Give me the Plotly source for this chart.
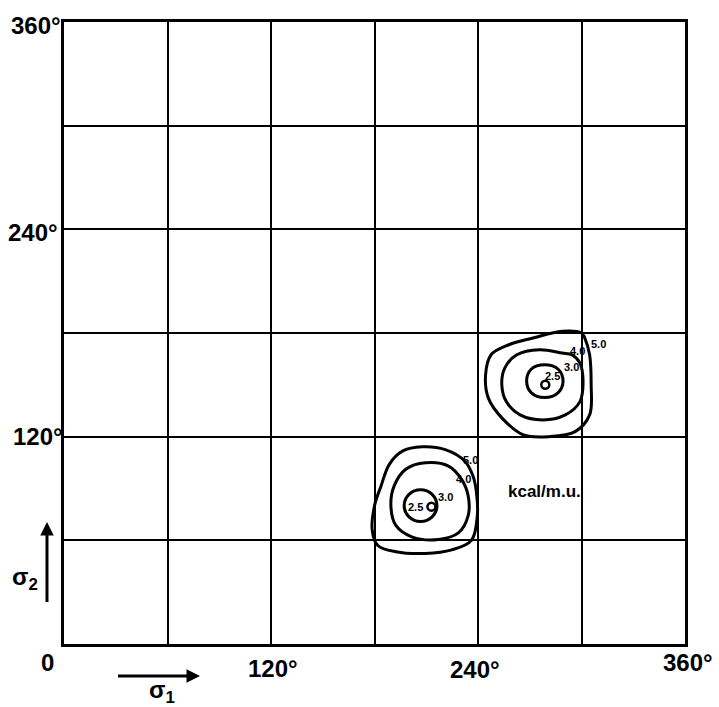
import plotly.graph_objects as go

# ---- data (degrees) ----
x_ticks = [0, 120, 240, 360]
x_tick_text = ["0", "120°", "240°", "360°"]
y_ticks = [120, 240, 360]
y_tick_text = ["120°", "240°", "360°"]

# upper minimum (kcal/m.u. contours)
up50_x = [300.0, 288.8, 271.9, 257.9, 247.6, 244.4, 246.0, 254.1, 266.3, 281.3, 296.3, 304.7, 305.6, 304.7, 301.9]
up50_y = [180.0, 181.0, 177.1, 173.2, 167.4, 155.8, 142.3, 130.6, 121.0, 120.0, 122.9, 132.6, 150.0, 167.4, 177.1]
up40_x = [288.8, 275.6, 262.5, 255.5, 253.8, 256.4, 264.4, 277.5, 290.6, 299.1, 300.9, 299.1, 294.4]
up40_y = [168.4, 170.3, 167.4, 159.7, 150.0, 140.3, 132.6, 129.7, 132.6, 140.3, 151.9, 162.6, 167.4]
up30_x = [268.2, 270.8, 278.6, 286.5, 289.3, 286.5, 278.6, 270.8]
up30_y = [152.0, 159.0, 161.6, 159.0, 152.0, 145.5, 142.6, 145.5]
up_min = (279.0, 150.0)

# lower minimum
lo50_x = [232.4, 221.0, 207.6, 196.2, 188.6, 183.8, 180.0, 178.7, 181.9, 192.4, 209.5, 224.8, 236.2, 239.6, 239.1, 237.1]
lo50_y = [105.8, 112.5, 114.1, 111.6, 104.0, 91.5, 80.0, 65.7, 57.0, 53.4, 52.4, 54.5, 60.0, 74.3, 87.7, 97.2]
lo40_x = [222.9, 209.5, 198.1, 191.4, 189.5, 192.4, 201.9, 217.1, 228.6, 234.3, 234.3, 230.5]
lo40_y = [103.0, 104.9, 101.1, 91.5, 80.1, 68.6, 61.9, 60.5, 64.3, 74.3, 85.8, 95.3]
lo30_x = [197.2, 200.0, 206.7, 213.4, 216.2, 213.4, 206.7, 200.0]
lo30_y = [80.0, 86.6, 89.3, 86.6, 80.0, 73.6, 70.9, 73.6]
lo_min = (213.0, 79.5)

# contour labels: (text, x, y)
contour_labels = [
    ("5.0", 310.0, 173.6), ("4.0", 297.4, 169.8), ("3.0", 294.4, 160.3), ("2.5", 283.0, 155.0),
    ("5.0", 235.8, 106.5), ("4.0", 231.6, 95.5), ("3.0", 221.4, 85.1), ("2.5", 203.8, 79.5),
]

fig = go.Figure()

def closed(xs, ys):
    return list(xs) + [xs[0]], list(ys) + [ys[0]]

for xs, ys in [(up50_x, up50_y), (up40_x, up40_y), (up30_x, up30_y),
               (lo50_x, lo50_y), (lo40_x, lo40_y), (lo30_x, lo30_y)]:
    cx, cy = closed(xs, ys)
    fig.add_trace(go.Scatter(x=cx, y=cy, mode="lines",
                             line=dict(color="black", width=3, shape="spline", smoothing=1.0),
                             hoverinfo="skip", showlegend=False))

fig.add_trace(go.Scatter(x=[up_min[0], lo_min[0]], y=[up_min[1], lo_min[1]], mode="markers",
                         marker=dict(symbol="circle-open", size=8, color="black", line=dict(width=2.5)),
                         showlegend=False, hoverinfo="skip"))

FAM = "Liberation Sans, Arial"
font_big = dict(family=FAM, size=24, color="black", weight="bold")
font_small = dict(family=FAM, size=11, color="black", weight="bold")

annotations = []
for t, x, y in contour_labels:
    annotations.append(dict(text=t, x=x, y=y, xref="x", yref="y", showarrow=False, font=font_small,
                            xanchor="center", yanchor="middle"))

annotations.append(dict(text="kcal/m.u.", x=278.5, y=88.5, xref="x", yref="y", showarrow=False,
                        xanchor="center", yanchor="middle",
                        font=dict(family=FAM, size=17, color="black", weight="bold")))

# tick labels (paper positions)
xpos = {0: (-0.0258, -0.0305), 120: (0.3366, -0.040), 240: (0.6618, -0.0418), 360: (1.0048, -0.029)}
for v, t in zip(x_ticks, x_tick_text):
    px, py = xpos[v]
    annotations.append(dict(text=t, x=px, y=py, xref="paper", yref="paper", showarrow=False,
                            font=font_big, xanchor="center", yanchor="middle"))
ypos = {120: (-0.0419, 0.333), 240: (-0.0499, 0.661), 360: (-0.0451, 0.995)}
for v, t in zip(y_ticks, y_tick_text):
    px, py = ypos[v]
    annotations.append(dict(text=t, x=px, y=py, xref="paper", yref="paper", showarrow=False,
                            font=font_big, xanchor="center", yanchor="middle"))

# axis arrows and labels
annotations.append(dict(x=-0.0274, y=0.196, xref="paper", yref="paper", text=" ", showarrow=True,
                        ax=0, ay=83, arrowhead=2, arrowsize=0.9, arrowwidth=3, arrowcolor="black",
                        font=dict(size=2)))
annotations.append(dict(x=0.219, y=-0.0514, xref="paper", yref="paper", text=" ", showarrow=True,
                        ax=-84, ay=0, arrowhead=2, arrowsize=0.9, arrowwidth=3, arrowcolor="black",
                        font=dict(size=2)))
annotations.append(dict(text="σ<sub>2</sub>", x=-0.0628, y=0.106, xref="paper", yref="paper",
                        showarrow=False, font=font_big, xanchor="center", yanchor="middle"))
annotations.append(dict(text="σ<sub>1</sub>", x=0.158, y=-0.077, xref="paper", yref="paper",
                        showarrow=False, font=font_big, xanchor="center", yanchor="middle"))

axis_common = dict(range=[0, 360], dtick=60, tick0=0, showgrid=True, gridcolor="black", gridwidth=2,
                   zeroline=False, showline=True, linecolor="black", linewidth=3, mirror=True,
                   showticklabels=False, ticks="", fixedrange=True)

fig.update_layout(
    width=719, height=707,
    margin=dict(l=64, r=34, t=22, b=63),
    paper_bgcolor="white", plot_bgcolor="white",
    xaxis=axis_common, yaxis=axis_common,
    annotations=annotations,
    showlegend=False,
)

fig.write_html("out.html")
